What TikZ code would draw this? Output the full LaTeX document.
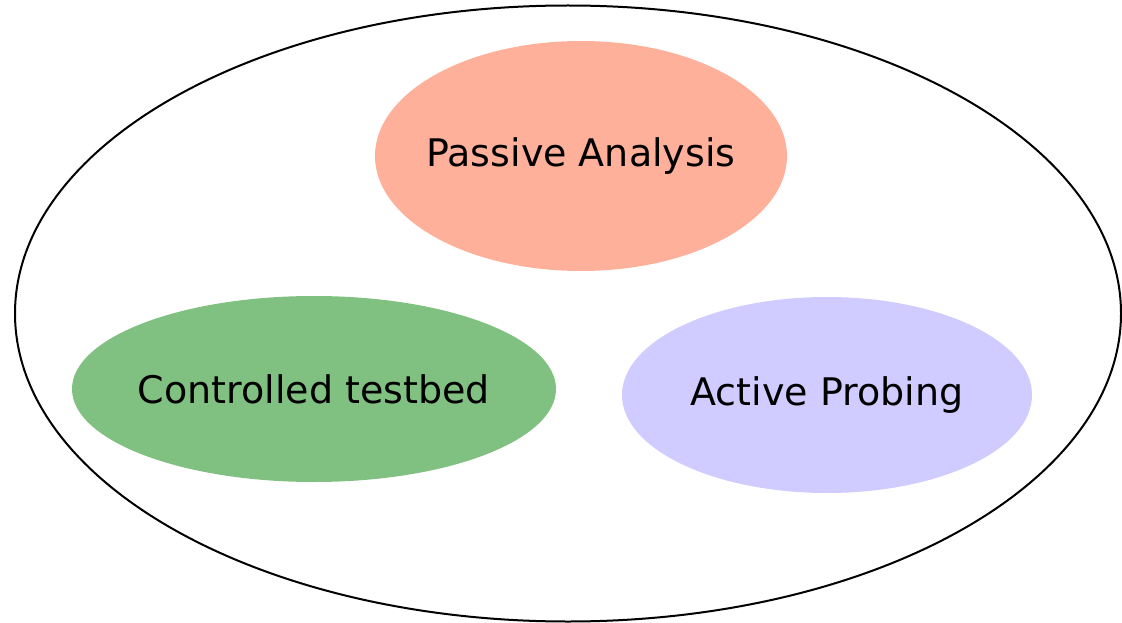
\documentclass[tikz,border=0pt]{standalone}
\usepackage{fontspec}
\setmainfont{DejaVu Sans}
\usetikzlibrary{shapes.geometric}
\definecolor{salmon}{HTML}{FFB09B}
\definecolor{softgreen}{HTML}{80C080}
\definecolor{lavender}{HTML}{D0CCFF}
\tikzset{
  blob/.style={ellipse, inner sep=0pt, outer sep=0pt, draw=none},
  blobtext/.style={inner sep=0pt, font=\fontsize{38}{44}\selectfont, text=black},
  outerring/.style={ellipse, inner sep=0pt, draw=black, line width=2pt}
}
\begin{document}
\begin{tikzpicture}[x=1pt,y=-1pt]
\useasboundingbox (0,0) rectangle (1122,623);
\node[outerring, minimum width=1106pt, minimum height=616pt] (outer) at (568,313.5) {};
\node[blob, fill=salmon, minimum width=412pt, minimum height=230pt] (passive) at (581,156) {};
\node[blobtext] (passivetext) at (passive.center) {Passive Analysis};
\node[blob, fill=softgreen, minimum width=484pt, minimum height=186pt] (testbed) at (314,389) {};
\node[blobtext] (testbedtext) at (testbed.center) {Controlled testbed};
\node[blob, fill=lavender, minimum width=410pt, minimum height=196pt] (active) at (827,395) {};
\node[blobtext] (activetext) at (active.center) {Active Probing};
\end{tikzpicture}
\end{document}
